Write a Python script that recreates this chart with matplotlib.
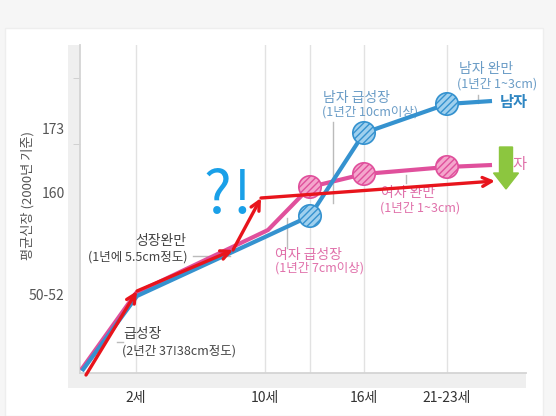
import numpy as np
import matplotlib.pyplot as plt
from matplotlib.patches import Rectangle

plt.rcParams['font.family'] = ['Noto Sans CJK KR', 'DejaVu Sans']

# schematic positions (x: age axis units, y: height units)
tick_x = [56, 185, 284, 367]
tick_labels = ['2세', '10세', '16세', '21-23세']
grid_x = [56, 185, 230, 284, 367]
ytick_pos = [79, 180, 245]
ytick_labels = ['50-52', '160', '173']
yminor_pos = [79, 229, 295]

male_x = [2, 57, 185, 230, 284, 367, 412]
male_y = [2, 77, 136, 157, 240, 269, 272]
female_x = [1, 56, 188, 230, 284, 367, 412]
female_y = [3, 80, 143, 186, 199, 206, 208]
dot_idx = [3, 4, 5]

red_x = [6, 57, 153, 181, 415]
red_y = [-2, 82, 123, 175, 192]

blue = '#3592cf'
pink = '#e0509c'
gray_txt = '#444444'
blue_txt = '#6a9cc6'
pink_txt = '#e070aa'

fig = plt.figure(figsize=(5.56, 4.16), dpi=100)
fig.patch.set_facecolor('#f6f6f6')
W, H = 556, 416
fig.patches.append(Rectangle((5 / W, 0), 538 / W, 388 / H, transform=fig.transFigure,
                             facecolor='white', edgecolor='#eeeeee', zorder=-2))
# gray bands along the axes
fig.patches.append(Rectangle((68 / W, 28 / H), 12 / W, 343 / H, transform=fig.transFigure,
                             facecolor='#efefef', edgecolor='none', zorder=-1))
fig.patches.append(Rectangle((68 / W, 28 / H), 458 / W, 15 / H, transform=fig.transFigure,
                             facecolor='#efefef', edgecolor='none', zorder=-1))

ax = fig.add_axes([80 / W, 43 / H, 446 / W, 328 / H])
ax.set_facecolor('none')
ax.set_xlim(0, 446)
ax.set_ylim(0, 328)

for s in ['top', 'right']:
    ax.spines[s].set_visible(False)
for s in ['left', 'bottom']:
    ax.spines[s].set_color('#d4d4d4')
    ax.spines[s].set_linewidth(1.3)

for gx in grid_x:
    ax.axvline(gx, color='#e2e2e2', lw=1, zorder=1)

ax.set_xticks(tick_x)
ax.set_xticklabels(tick_labels, fontsize=10, color='#333333')
ax.tick_params(axis='x', length=0, pad=13)
ax.set_yticks(ytick_pos)
ax.set_yticklabels(ytick_labels, fontsize=10, color='#555555')
ax.set_yticks(yminor_pos, minor=True)
ax.tick_params(axis='y', which='major', length=0, pad=11)
ax.tick_params(axis='y', which='minor', length=5, color='#cccccc')
ax.set_ylabel('평균신장 (2000년 기준)', fontsize=9.5, color='#555555')
ax.yaxis.set_label_coords(-45 / 446, 177 / 328)

# leader lines
ax.plot([253, 253], [251, 170], color='#bbbbbb', lw=1, zorder=2)
ax.plot([398, 398], [278, 270], color='#bbbbbb', lw=1, zorder=2)
ax.plot([326, 326], [198, 190], color='#bbbbbb', lw=1, zorder=2)
ax.plot([207, 207], [155, 125], color='#bbbbbb', lw=1, zorder=2)
ax.plot([113, 150], [117, 117], color='#bbbbbb', lw=1, zorder=2)
ax.plot([37, 43], [31, 31], color='#bbbbbb', lw=1, zorder=2)

# growth lines
ax.plot(female_x, female_y, color=pink, lw=3, zorder=3, solid_capstyle='butt')
ax.plot(male_x, male_y, color=blue, lw=3, zorder=4, solid_capstyle='butt')
ax.scatter([female_x[i] for i in dot_idx], [female_y[i] for i in dot_idx], s=260,
           facecolor='#f4a6cc', edgecolor=pink, hatch='/////', lw=1.2, zorder=5)
ax.scatter([male_x[i] for i in dot_idx], [male_y[i] for i in dot_idx], s=260,
           facecolor='#9fd0ee', edgecolor=blue, hatch='/////', lw=1.2, zorder=5)

# annotations
ax.text(379, 304, '남자 완만', fontsize=10, color=blue_txt, va='center')
ax.text(377, 289, '(1년간 1~3cm)', fontsize=9, color=blue_txt, va='center')
ax.text(420, 271, '남자', fontsize=11, color='#2f86c2', va='center', fontweight='bold')
ax.text(243, 275, '남자 급성장', fontsize=10, color=blue_txt, va='center')
ax.text(242, 261, '(1년간 10cm이상)', fontsize=9, color=blue_txt, va='center')
ax.text(301, 180, '여자 완만', fontsize=10, color=pink_txt, va='center')
ax.text(300, 165, '(1년간 1~3cm)', fontsize=9, color=pink_txt, va='center')
ax.text(419, 208, '여자', fontsize=11, color=pink_txt, va='center')
ax.text(195, 118, '여자 급성장', fontsize=10, color=pink_txt, va='center')
ax.text(195, 105, '(1년간 7cm이상)', fontsize=9, color=pink_txt, va='center')
ax.text(55, 132, '성장완만', fontsize=10, color=gray_txt, va='center')
ax.text(8, 116, '(1년에 5.5cm정도)', fontsize=9, color=gray_txt, va='center')
ax.text(43, 39, '급성장', fontsize=10, color=gray_txt, va='center')
ax.text(42, 22, '(2년간 37!38cm정도)', fontsize=9, color=gray_txt, va='center')

# red arrows drawn over the chart
for i in range(len(red_x) - 1):
    ax.annotate('', xy=(red_x[i + 1], red_y[i + 1]), xytext=(red_x[i], red_y[i]),
                arrowprops=dict(arrowstyle='->', color='#e8141c', lw=2.4,
                                mutation_scale=16, shrinkA=0, shrinkB=0),
                annotation_clip=False, zorder=7)

ax.text(123, 160, '?', fontsize=42, color='#1aa0e8', fontweight='light',
        va='baseline', zorder=7)
ax.text(152, 160, '!', fontsize=42, color='#1aa0e8', fontweight='light',
        va='baseline', zorder=7)

ax.arrow(426, 226, 0, -42, width=13, head_width=25, head_length=16,
         length_includes_head=True, color='#8cc63f', zorder=8)

fig.savefig('out.png', dpi=100, facecolor=fig.get_facecolor())
